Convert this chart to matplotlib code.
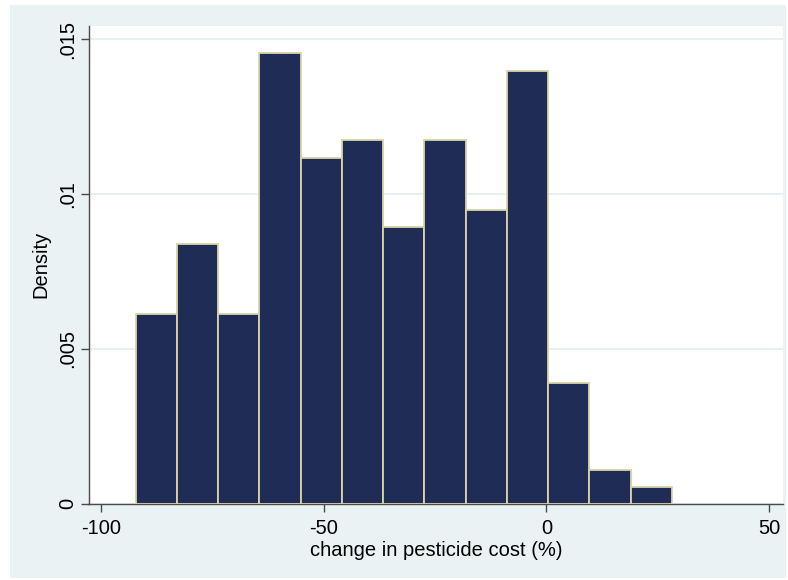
import matplotlib
matplotlib.use("Agg")
import matplotlib.pyplot as plt
from matplotlib.patches import Rectangle
import numpy as np

# histogram bins (change in pesticide cost, %) and densities
bin_start = -92.2
bin_width = 9.26
densities = [0.00613, 0.00838, 0.00613, 0.01455, 0.01118, 0.01175, 0.00893,
             0.01175, 0.00949, 0.01399, 0.00390, 0.00109, 0.00053]
x_ticks = [-100, -50, 0, 50]
x_tick_labels = ["-100", "-50", "0", "50"]
y_ticks = [0, 0.005, 0.01, 0.015]
y_tick_labels = ["0", ".005", ".01", ".015"]

plt.rcParams['font.family'] = ['Liberation Sans', 'DejaVu Sans']

W, H = 788, 580
fig = plt.figure(figsize=(W / 100, H / 100), dpi=100, facecolor='white')

# Stata-like graph region
bg = '#EAF2F3'
fig.patches.append(Rectangle((10 / W, 1 - 578 / H), 776 / W, 573 / H,
                             transform=fig.transFigure, facecolor=bg,
                             edgecolor='none', zorder=-10))

ax = fig.add_axes([88.5 / W, 1 - 503.7 / H, (783 - 88.5) / W, (503.7 - 26) / H])
ax.set_facecolor('white')

lefts = bin_start + bin_width * np.arange(len(densities))
ax.bar(lefts, densities, width=bin_width, align='edge',
       color='#1F2C55', edgecolor='#D9D4A6', linewidth=1.3, zorder=3)

ax.set_xlim(-102.8, 53.1)
ax.set_ylim(0, 0.01543)

ax.set_xticks(x_ticks)
ax.set_xticklabels(x_tick_labels, fontsize=14.5)
ax.set_yticks(y_ticks)
ax.set_yticklabels(y_tick_labels, fontsize=14.5, rotation=90, va='center')

ax.grid(True, axis='y', color='#E3EEF0', linewidth=1.2, zorder=0)
ax.set_axisbelow(True)

for s in ['top', 'right']:
    ax.spines[s].set_visible(False)
for s in ['left', 'bottom']:
    ax.spines[s].set_color('#4a4a4a')
    ax.spines[s].set_linewidth(1.0)

ax.tick_params(axis='both', direction='out', length=6, width=1.0,
               color='#4a4a4a')
ax.tick_params(axis='x', pad=5)
ax.tick_params(axis='y', pad=2)

ax.set_xlabel('change in pesticide cost (%)', fontsize=14.5, labelpad=2)
ax.set_ylabel('Density', fontsize=14.5, labelpad=6)

fig.savefig('out.png', dpi=100, facecolor='white')
